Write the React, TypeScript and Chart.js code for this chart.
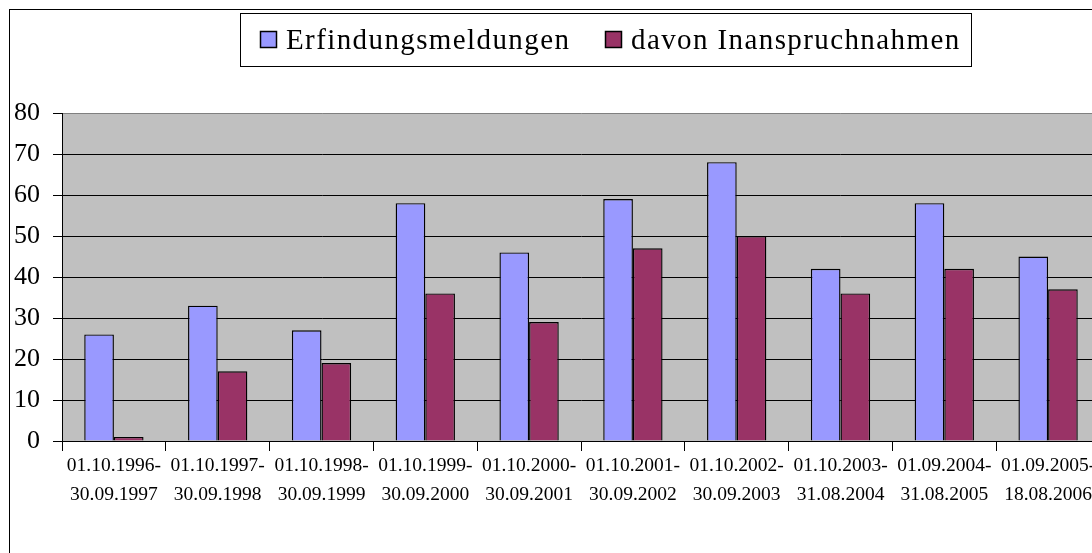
import React, { useEffect, useRef } from "react";
import { Chart, registerables } from "chart.js";

Chart.register(...registerables);

const categories: string[][] = [
  ["01.10.1996-", "30.09.1997"],
  ["01.10.1997-", "30.09.1998"],
  ["01.10.1998-", "30.09.1999"],
  ["01.10.1999-", "30.09.2000"],
  ["01.10.2000-", "30.09.2001"],
  ["01.10.2001-", "30.09.2002"],
  ["01.10.2002-", "30.09.2003"],
  ["01.10.2003-", "31.08.2004"],
  ["01.09.2004-", "31.08.2005"],
  ["01.09.2005-", "18.08.2006"],
];
const erfindungsmeldungen = [26, 33, 27, 58, 46, 59, 68, 42, 58, 45];
const inanspruchnahmen = [1, 17, 19, 36, 29, 47, 50, 36, 42, 37];
const seriesLabels = ["Erfindungsmeldungen", "davon Inanspruchnahmen"];
const yMin = 0;
const yMax = 80;
const yStep = 10;

const FONT = "'Liberation Serif', 'Times New Roman', serif";

const frame = {
  id: "frame",
  beforeDraw(chart: any) {
    const { ctx, width, height, chartArea } = chart;
    ctx.save();
    ctx.fillStyle = "#ffffff";
    ctx.fillRect(0, 0, width, height);
    ctx.fillStyle = "#C0C0C0";
    ctx.fillRect(chartArea.left, chartArea.top, chartArea.right - chartArea.left, chartArea.bottom - chartArea.top);
    ctx.strokeStyle = "#000000";
    ctx.lineWidth = 1;
    ctx.strokeRect(1.5, 1.5, width - 3, height - 3);
    ctx.restore();
  },
  afterDraw(chart: any) {
    const { ctx } = chart;
    ctx.save();
    const bx = 232.5, by = 5.5, bw = 731, bh = 53;
    ctx.strokeStyle = "#000000";
    ctx.lineWidth = 1;
    ctx.strokeRect(bx, by, bw, bh);
    const items = chart.data.datasets.map((d: any) => ({ label: d.label, color: d.backgroundColor }));
    const sq = [252, 597];
    ctx.font = `29px ${FONT}`;
    try { (ctx as any).letterSpacing = "1.4px"; } catch (e) {}
    ctx.textBaseline = "middle";
    items.forEach((it: any, i: number) => {
      ctx.fillStyle = it.color;
      ctx.fillRect(sq[i] + 0.5, 23.5, 16, 16);
      ctx.strokeStyle = "#000";
      ctx.lineWidth = 1.5;
      ctx.strokeRect(sq[i] + 0.5, 23.5, 16, 16);
      ctx.fillStyle = "#000";
      ctx.fillText(it.label, sq[i] + 26, 33);
    });
    ctx.restore();
  },
};

export default function App() {
  const ref = useRef<HTMLCanvasElement | null>(null);
  useEffect(() => {
    document.documentElement.style.overflow = "hidden";
    const canvas = ref.current!;
    const chart = new Chart(canvas, {
      type: "bar",
      data: {
        labels: categories,
        datasets: [
          {
            label: seriesLabels[0],
            data: erfindungsmeldungen,
            backgroundColor: "#9999FF",
            borderColor: "#000000",
            borderWidth: 1.4,
            categoryPercentage: 2 / 3.5,
            barPercentage: 1,
          },
          {
            label: seriesLabels[1],
            data: inanspruchnahmen,
            backgroundColor: "#993366",
            borderColor: "#000000",
            borderWidth: 1.4,
            categoryPercentage: 2 / 3.5,
            barPercentage: 1,
          },
        ],
      },
      options: {
        animation: false,
        responsive: false,
        maintainAspectRatio: false,
        devicePixelRatio: 1,
        layout: { padding: { top: 105, left: 0, right: 103, bottom: 47 } },
        plugins: { legend: { display: false }, tooltip: { enabled: false } },
        scales: {
          x: {
            afterFit: (s: any) => { s.height = 80; },
            grid: { display: true, drawOnChartArea: false, drawTicks: true, tickLength: 10, color: "#000", offset: true },
            border: { display: true, color: "#000", width: 1 },
            ticks: { color: "#000", font: { family: FONT, size: 19.5, lineHeight: 1.5 }, padding: 0, maxRotation: 0, autoSkip: false },
          },
          y: {
            min: yMin,
            max: yMax,
            afterFit: (s: any) => { s.width = 54; },
            grid: {
              color: (c: any) => (c.tick && c.tick.value === yMax ? "#808080" : "#000000"),
              tickColor: "#000000",
              tickLength: 9,
              lineWidth: 1,
            },
            border: { display: true, color: "#000", width: 1 },
            ticks: { stepSize: yStep, color: "#000", font: { family: FONT, size: 26 }, padding: 13 },
          },
        },
      },
      plugins: [frame],
    });
    return () => chart.destroy();
  }, []);
  return (
    <div style={{ position: "fixed", left: 8, top: 8, width: 1195, height: 560 }}>
      <canvas ref={ref} width={1195} height={560} style={{ display: "block", width: 1195, height: 560 }} />
    </div>
  );
}
